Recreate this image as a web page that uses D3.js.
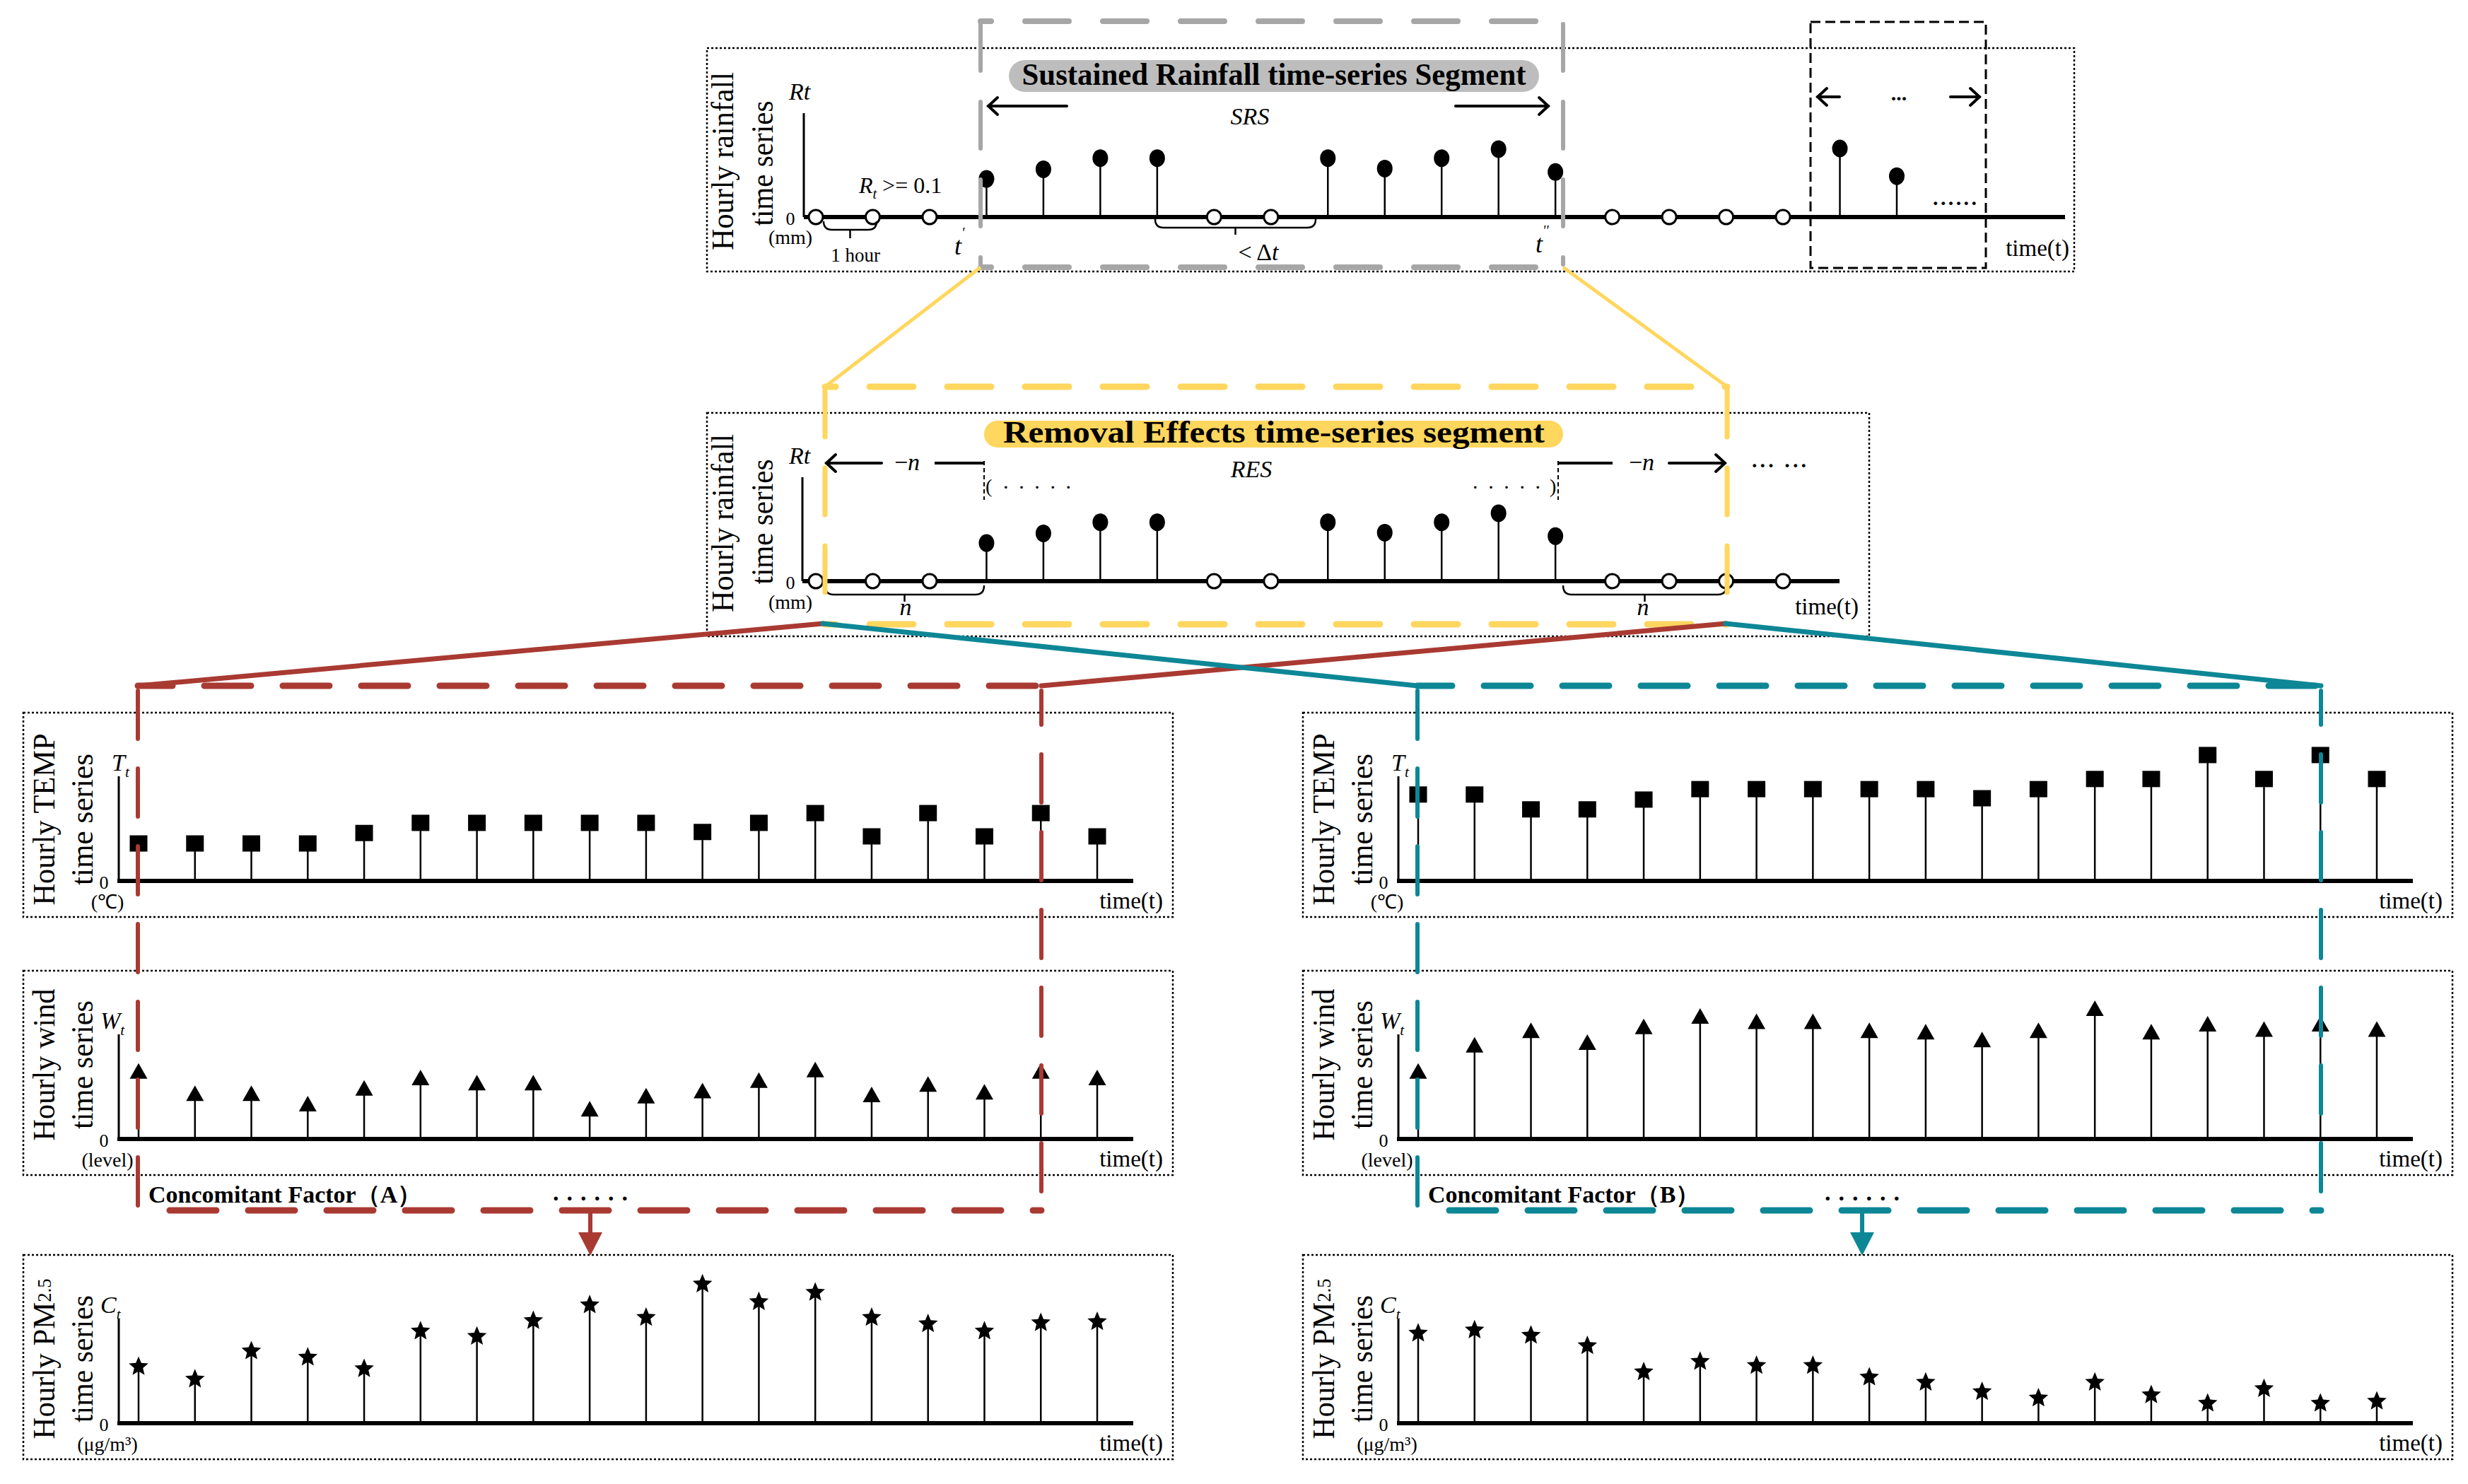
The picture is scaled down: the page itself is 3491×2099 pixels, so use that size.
<!DOCTYPE html>
<html><head><meta charset="utf-8">
<script src="https://cdn.jsdelivr.net/npm/d3@7"></script>
<style>body{margin:0;background:#fff}svg{display:block}</style>
</head><body>
<svg id="c" width="3491" height="2099"></svg>
<script>
// ---------------- data ----------------
const rainHours = d3.range(20);
const rainMM = [0,0,0,0.55,0.69,0.85,0.85,0,0,0.85,0.70,0.85,0.98,0.65,0,0,0,0,0.99,0.59];
const resCount = 18;               // hours shown in the removal-effects panel
const hours = d3.range(18);
const tempA = [11.1,11.1,11.1,11.1,14.2,17.2,17.2,17.2,17.2,17.2,14.5,17.2,20.1,13.2,20.1,13.2,20.1,13.2];
const tempB = [25.6,25.6,21.2,21.2,24.1,27.2,27.2,27.2,27.2,27.2,24.5,27.2,30.2,30.2,37.3,30.2,37.3,30.2];
const windA = [2.9,2.05,2.05,1.65,2.25,2.65,2.45,2.45,1.45,1.95,2.15,2.55,2.95,2.0,2.4,2.1,2.9,2.65];
const windB = [2.9,3.9,4.45,4.0,4.6,5.0,4.8,4.8,4.45,4.4,4.1,4.45,5.3,4.4,4.7,4.5,4.7,4.5];
const pmA = [54,42,69,63,52,88,83,98,113,101,133,116,125,101,95,88,96,97];
const pmB = [86,89,84,74,49,59,55,55,44,39,30,24,39,27,19,33,19,21];

const RED = "#a93a32", TEAL = "#0d8796", YEL = "#ffd65e", GRAY = "#a6a6a6", PILL = "#bdbdbd";
const SERIF = "'Liberation Serif','Times New Roman',serif";

const svg = d3.select("#c");
svg.append("rect").attr("width",3491).attr("height",2099).attr("fill","#fff");
const gPanels = svg.append("g"), gOver = svg.append("g");

// ---------------- helpers ----------------
function txt(g, x, y, s, o = {}) {
  const t = g.append("text").attr("x", x).attr("y", y)
    .attr("font-family", o.family || SERIF).attr("font-size", o.size || 32)
    .attr("text-anchor", o.anchor || "start").attr("fill", o.fill || "#000");
  if (o.weight) t.attr("font-weight", o.weight);
  if (o.italic) t.attr("font-style", "italic");
  if (o.len) t.attr("textLength", o.len).attr("lengthAdjust", o.adjust || "spacingAndGlyphs");
  if (o.baseline) t.attr("dominant-baseline", o.baseline);
  t.text(s);
  return t;
}
function subLabel(g, x, y, letter, sub, size = 34) {
  const t = g.append("text").attr("x", x).attr("y", y).attr("font-family", SERIF)
    .attr("font-size", size).attr("font-style", "italic");
  t.append("tspan").text(letter);
  t.append("tspan").attr("font-size", size * 0.62).attr("dy", size * 0.25).text(sub);
  return t;
}
function rotLabel(g, cx, cy, s, len, sub) {
  const t = g.append("text").attr("transform", `translate(${cx},${cy}) rotate(-90)`)
    .attr("text-anchor", "middle").attr("dominant-baseline", "central")
    .attr("font-family", SERIF).attr("font-size", 45)
    .attr("textLength", len).attr("lengthAdjust", "spacingAndGlyphs");
  t.append("tspan").text(s);
  if (sub) t.append("tspan").attr("font-size", 28).text(sub);
}
function dotBox(g, x0, y0, x1, y1) {
  g.append("rect").attr("x", x0).attr("y", y0).attr("width", x1 - x0).attr("height", y1 - y0)
    .attr("fill", "none").attr("stroke", "#000").attr("stroke-width", 2.5).attr("stroke-dasharray", "3,3");
}
function line(g, x1, y1, x2, y2, color, w, dash, offset, cap) {
  const l = g.append("line").attr("x1", x1).attr("y1", y1).attr("x2", x2).attr("y2", y2)
    .attr("stroke", color).attr("stroke-width", w).attr("stroke-linecap", cap || "butt");
  if (dash) l.attr("stroke-dasharray", dash);
  if (offset) l.attr("stroke-dashoffset", offset);
  return l;
}
function arrow(g, x1, x2, y, w = 4) { // head at x2
  line(g, x1, y, x2, y, "#000", w, null, null, "round");
  const d = x2 > x1 ? -1 : 1;
  g.append("path").attr("d", `M${x2 + d*13},${y - 12}L${x2},${y}L${x2 + d*13},${y + 12}`)
    .attr("fill", "none").attr("stroke", "#000").attr("stroke-width", w).attr("stroke-linecap", "round");
}
function brace(g, x0, x1, y0, h, tick) {
  const m = (x0 + x1) / 2, r = Math.min(12, h);
  g.append("path").attr("d",
    `M${x0},${y0} Q${x0},${y0 + h} ${x0 + r},${y0 + h} H${x1 - r} Q${x1},${y0 + h} ${x1},${y0} M${m},${y0 + h} V${y0 + h + tick}`)
    .attr("fill", "none").attr("stroke", "#000").attr("stroke-width", 2.5);
}
function starPath(R, r) {
  let p = "";
  for (let k = 0; k < 10; k++) {
    const a = -Math.PI / 2 + k * Math.PI / 5, rr = k % 2 ? r : R;
    p += (k ? "L" : "M") + (rr * Math.cos(a)).toFixed(2) + "," + (rr * Math.sin(a)).toFixed(2);
  }
  return p + "Z";
}

// ---------------- rainfall panels ----------------
const xRain = d3.scaleLinear().domain([0, 19]).range([1154, 2683]);
function rainPanel(g, c) {
  dotBox(g, ...c.box);
  const y = d3.scaleLinear().domain([0, 1.5]).range([c.axisY, c.axisY - 147]);
  const data = c.hours.map(i => ({ i, v: rainMM[i] }));
  line(g, c.yAxisX, y(1.5), c.yAxisX, c.axisY, "#000", 3);
  line(g, c.yAxisX, c.axisY, c.axisEnd, c.axisY, "#000", 6);
  const wet = data.filter(d => d.v > 0), dry = data.filter(d => d.v === 0);
  g.selectAll(null).data(wet).join("line")
    .attr("x1", d => xRain(d.i)).attr("x2", d => xRain(d.i))
    .attr("y1", c.axisY).attr("y2", d => y(d.v)).attr("stroke", "#000").attr("stroke-width", 2.5);
  g.selectAll(null).data(wet).join("ellipse")
    .attr("cx", d => xRain(d.i)).attr("cy", d => y(d.v)).attr("rx", 11).attr("ry", 12.5).attr("fill", "#000");
  g.selectAll(null).data(dry).join("circle")
    .attr("cx", d => xRain(d.i)).attr("cy", c.axisY).attr("r", 10)
    .attr("fill", "#fff").attr("stroke", "#000").attr("stroke-width", 3);
  txt(g, 1116, c.axisY - 166, "Rt", { size: 34, italic: true });
  txt(g, 1118, c.axisY + 2, "0", { size: 26, anchor: "middle", baseline: "central" });
  txt(g, 1118, c.axisY + c.unitDy, "(mm)", { size: 28, anchor: "middle" });
  txt(g, c.timeX, c.axisY + c.timeDy, "time(t)", { size: 33, anchor: "end" });
  rotLabel(g, 1022, c.lab1, "Hourly rainfall", 252);
  rotLabel(g, 1078, c.lab2, "time series", 177);
}

// top panel
rainPanel(gPanels, { box: [1000, 68, 2934, 384], axisY: 307, yAxisX: 1137, axisEnd: 2921,
  hours: rainHours, unitDy: 38, timeX: 2927, timeDy: 55, lab1: 228, lab2: 231 });
// middle panel
rainPanel(gPanels, { box: [1000, 584, 2644, 900], axisY: 822, yAxisX: 1135, axisEnd: 2602,
  hours: rainHours.slice(0, resCount), unitDy: 39, timeX: 2629, timeDy: 47, lab1: 740, lab2: 738 });

// top annotations
{
  const g = gPanels;
  const t = g.append("text").attr("x", 1215).attr("y", 273).attr("font-family", SERIF).attr("font-size", 32);
  t.append("tspan").attr("font-style", "italic").text("R");
  t.append("tspan").attr("font-style", "italic").attr("font-size", 20).attr("dy", 8).text("t");
  t.append("tspan").attr("dy", -8).text(" >= 0.1");
  brace(g, 1165, 1240, 313, 12, 12);
  txt(g, 1210, 370, "1 hour", { size: 27, anchor: "middle" });
  brace(g, 1634, 1861, 310, 12, 10);
  const dt = g.append("text").attr("x", 1780).attr("y", 368).attr("font-family", SERIF)
    .attr("font-size", 34).attr("text-anchor", "middle");
  dt.append("tspan").text("< Δ");
  dt.append("tspan").attr("font-style", "italic").text("t");
  const t1 = g.append("text").attr("x", 1350).attr("y", 360).attr("font-family", SERIF).attr("font-size", 36).attr("font-style", "italic");
  t1.append("tspan").text("t");
  t1.append("tspan").attr("font-size", 20).attr("dy", -24).text("'");
  const t2 = g.append("text").attr("x", 2172).attr("y", 357).attr("font-family", SERIF).attr("font-size", 36).attr("font-style", "italic");
  t2.append("tspan").text("t");
  t2.append("tspan").attr("font-size", 20).attr("dy", -24).text("''");
  arrow(g, 1509, 1398, 150);
  arrow(g, 2059, 2190, 150);
  txt(g, 1768, 176, "SRS", { size: 34, italic: true, anchor: "middle" });
  arrow(g, 2602, 2571, 137);
  arrow(g, 2759, 2800, 137);
  txt(g, 2686, 142, "...", { size: 30, weight: "bold", anchor: "middle" });
  txt(g, 2734, 290, "......", { size: 30, weight: "bold", len: 62, adjust: "spacing" });
  g.append("rect").attr("x", 2561).attr("y", 31).attr("width", 248).attr("height", 348)
    .attr("fill", "none").attr("stroke", "#000").attr("stroke-width", 3).attr("stroke-dasharray", "14,7");
  g.append("rect").attr("x", 1427).attr("y", 85).attr("width", 750).attr("height", 45).attr("rx", 22.5).attr("fill", PILL);
  txt(g, 1802, 120, "Sustained Rainfall time-series Segment", { size: 45, weight: "bold", anchor: "middle", len: 713 });
}
// middle annotations
{
  const g = gPanels;
  g.append("rect").attr("x", 1392).attr("y", 595).attr("width", 819).attr("height", 38).attr("rx", 19).attr("fill", YEL);
  txt(g, 1802, 626, "Removal Effects time-series segment", { size: 44, weight: "bold", anchor: "middle", len: 766 });
  arrow(g, 1247, 1169, 655);
  line(g, 1322, 655, 1392, 655, "#000", 4);
  const n1 = txt(g, 1283, 665, "", { size: 34, anchor: "middle" });
  n1.append("tspan").text("−"); n1.append("tspan").attr("font-style", "italic").text("n");
  line(g, 2204, 655, 2281, 655, "#000", 4);
  arrow(g, 2361, 2440, 655);
  const n2 = txt(g, 2322, 665, "", { size: 34, anchor: "middle" });
  n2.append("tspan").text("−"); n2.append("tspan").attr("font-style", "italic").text("n");
  line(g, 1392, 652, 1392, 707, "#000", 2, "6,4");
  line(g, 2204, 652, 2204, 707, "#000", 2, "6,4");
  txt(g, 1394, 697, "(", { size: 28 });
  txt(g, 1419, 691, ".....", { size: 30, len: 96, adjust: "spacing" });
  txt(g, 2083, 691, ".....", { size: 30, len: 96, adjust: "spacing" });
  txt(g, 2192, 697, ")", { size: 28 });
  txt(g, 2478, 661, "... ...", { size: 30, weight: "bold", len: 77, adjust: "spacing" });
  txt(g, 1770, 675, "RES", { size: 34, italic: true, anchor: "middle" });
  brace(g, 1167, 1392, 828, 13, 10);
  brace(g, 2211, 2442, 828, 13, 10);
  txt(g, 1281, 870, "n", { size: 34, italic: true, anchor: "middle" });
  txt(g, 2324, 870, "n", { size: 34, italic: true, anchor: "middle" });
}

// ---------------- concomitant panels ----------------
const xA = d3.scaleLinear().domain([0, 17]).range([196, 1552]);
const xB = d3.scaleLinear().domain([0, 17]).range([2006, 3362]);
const tri = "M0,0L-12.5,22L12.5,22Z", star = starPath(14.5, 6.5);

function concPanel(g, c) {
  const L = c.L, T = c.T, axisY = T + 238;
  dotBox(g, L, T, L + 1626, T + 289);
  const y = d3.scaleLinear().domain([0, c.dmax]).range([axisY, T + 90]);
  const data = hours.map(i => ({ i, v: c.values[i] }));
  line(g, L + 135, T + 90, L + 135, axisY, "#000", 3);
  line(g, L + 133, axisY, L + 1570, axisY, "#000", 6);
  g.selectAll(null).data(data).join("line")
    .attr("x1", d => c.x(d.i)).attr("x2", d => c.x(d.i))
    .attr("y1", axisY).attr("y2", d => y(d.v) + (c.kind === "tri" ? 6 : 0))
    .attr("stroke", "#000").attr("stroke-width", 2.5);
  if (c.kind === "sq") {
    g.selectAll(null).data(data).join("rect")
      .attr("x", d => c.x(d.i) - 12.5).attr("y", d => y(d.v) - 11.5).attr("width", 25).attr("height", 23).attr("fill", "#000");
  } else {
    g.selectAll(null).data(data).join("path")
      .attr("d", c.kind === "tri" ? tri : star)
      .attr("transform", d => `translate(${c.x(d.i)},${y(d.v)})`).attr("fill", "#000");
  }
  subLabel(g, L + c.varDx, T + 82, c.letter, "t");
  txt(g, L + 114, axisY + 2, "0", { size: 26, anchor: "middle", baseline: "central" });
  txt(g, L + 119, T + 277, c.unit, { size: 28, anchor: "middle" });
  txt(g, L + 1612, T + 277, "time(t)", { size: 33, anchor: "end" });
  rotLabel(g, L + 29, T + c.labY, c.l1, c.len1, c.sub);
  rotLabel(g, L + 83, T + c.labY, "time series", c.len2);
}
const cols = [
  { L: 33, x: xA, temp: tempA, wind: windA, pm: pmA },
  { L: 1843, x: xB, temp: tempB, wind: windB, pm: pmB }
];
cols.forEach(col => {
  concPanel(gPanels, { L: col.L, T: 1008, x: col.x, values: col.temp, dmax: 31, kind: "sq",
    letter: "T", varDx: 125, unit: "(℃)", l1: "Hourly TEMP", len1: 243, len2: 186, labY: 151 });
  concPanel(gPanels, { L: col.L, T: 1373, x: col.x, values: col.wind, dmax: 4, kind: "tri",
    letter: "W", varDx: 109, unit: "(level)", l1: "Hourly wind", len1: 215, len2: 182, labY: 133 });
  concPanel(gPanels, { L: col.L, T: 1775, x: col.x, values: col.pm, dmax: 100, kind: "star",
    letter: "C", varDx: 109, unit: "(μg/m³)", l1: "Hourly PM", sub: "2.5", len1: 227, len2: 180, labY: 147 });
});

// ---------------- overlay frames ----------------
{
  const g = gOver;
  line(g, 1387, 30, 2211, 30, GRAY, 8, "62,48", 47, "round");
  line(g, 1387, 378, 2211, 378, GRAY, 8, "62,48", 47, "round");
  line(g, 1387, 34, 1387, 374, GRAY, 6, "66,44", 0, "round");
  line(g, 2211, 34, 2211, 374, GRAY, 6, "66,44", 0, "round");
  line(g, 1387, 378, 1167, 547, YEL, 5);
  line(g, 2211, 378, 2443, 547, YEL, 5);
  line(g, 1167, 547, 2443, 547, YEL, 9, "62,48", 47, "round");
  line(g, 1167, 883, 2443, 883, YEL, 9, "62,48", 47, "round");
  line(g, 1167, 552, 1167, 878, YEL, 7, "66,44", 0, "round");
  line(g, 2443, 552, 2443, 878, YEL, 7, "66,44", 0, "round");
  line(g, 1164, 882, 195, 970, RED, 7, null, null, "round");
  line(g, 2441, 882, 1473, 970, RED, 7, null, null, "round");
  line(g, 1164, 882, 2005, 970, TEAL, 7, null, null, "round");
  line(g, 2441, 882, 3283, 970, TEAL, 7, null, null, "round");
  [[195, 1473, RED, 835, "（A）"], [2005, 3283, TEAL, 2634, "（B）"]].forEach(([xl, xr, col, ax, lab]) => {
    line(g, xl, 970, xr, 970, col, 9, "66,45", 17, "round");
    line(g, xl, 1712, xr, 1712, col, 9, "66,45", 66, "round");
    line(g, xl, 977, xl, 1712, col, 6, "68,42", 0, "round");
    line(g, xr, 977, xr, 1712, col, 6, "68,42", 20, "round");
    line(g, ax, 1712, ax, 1746, col, 6);
    g.append("path").attr("d", `M${ax - 17},${1743}L${ax + 17},${1743}L${ax},${1776}Z`).attr("fill", col);
    txt(g, xl + 15, 1701, "Concomitant Factor" + lab, { size: 34, weight: "bold" });
    txt(g, ax - 53, 1698, "......", { size: 34, weight: "bold", len: 106, adjust: "spacing" });
  });
}
</script>
</body></html>
